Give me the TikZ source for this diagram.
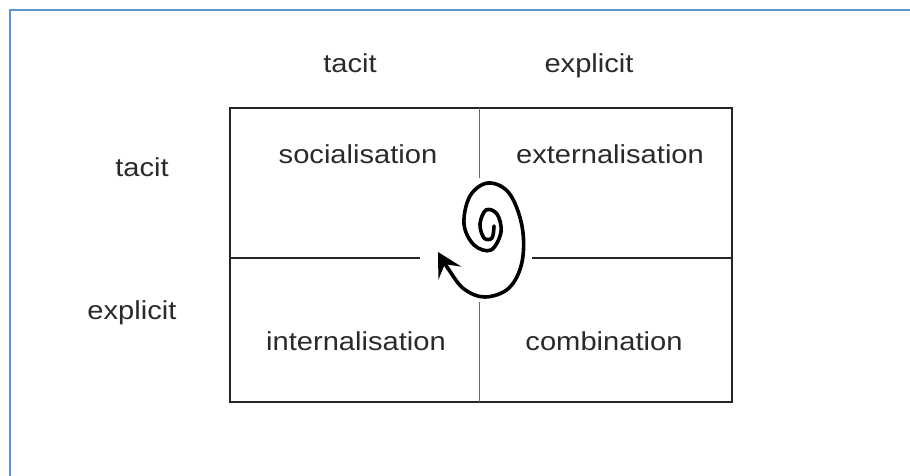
\documentclass[tikz,border=0pt]{standalone}
\usepackage{fontspec}
\setmainfont{Liberation Sans}
\usetikzlibrary{arrows.meta}
\definecolor{framebl}{HTML}{5B93D3}
\definecolor{txt}{HTML}{2A2A2A}
\tikzset{
  lbl/.style={inner sep=0pt, anchor=base, text=txt, font=\fontsize{26}{30}\selectfont},
  outer/.style={line width=1.6pt, draw=black!85},
  inner/.style={line width=1pt, draw=black!60},
  spiral/.style={line width=3.6pt, line cap=round, line join=round, -{Stealth[length=24pt,width=26pt,inset=10pt]}}
}
\newcommand{\wide}[1]{\scalebox{1.12}[1]{#1}}
\begin{document}
\begin{tikzpicture}[x=1pt,y=-1pt]
\useasboundingbox (0,0) rectangle (910,476);
% frame
\draw[framebl, line width=2pt] (10,476) -- (10,10) -- (910,10);
% grid coordinates
\coordinate (nw) at (230,108);
\coordinate (se) at (732,402);
\coordinate (tm) at (479,108);
\coordinate (tmend) at (479,178);
\coordinate (bm) at (479,402);
\coordinate (bmend) at (479,302);
\coordinate (lm) at (230,258);
\coordinate (lmend) at (420,258);
\coordinate (rm) at (732,258);
\coordinate (rmend) at (532,258);
\draw[outer] (nw) rectangle (se);
\draw[inner] (tm) -- (tmend);
\draw[inner] (bm) -- (bmend);
\draw[outer, line width=1.3pt] (lm) -- (lmend);
\draw[outer, line width=1.3pt] (rm) -- (rmend);
% labels
\node[lbl] (ctacit) at (350,73) {\wide{tacit}};
\node[lbl] (cexpl) at (589,73) {\wide{explicit}};
\node[lbl] (rtacit) at (142,176) {\wide{tacit}};
\node[lbl] (rexpl) at (132,319) {\wide{explicit}};
\node[lbl] (soc) at (358,163) {\wide{socialisation}};
\node[lbl] (ext) at (610,163) {\wide{externalisation}};
\node[lbl] (int) at (356,350) {\wide{internalisation}};
\node[lbl] (com) at (604,350) {\wide{combination}};
% spiral
\draw[spiral] plot[smooth, tension=0.6] coordinates {
 (494,226) (492,238) (484,238) (480,224) (486,210) (497,214) (501,232)
 (491,250) (474,245) (464,224) (470,196) (488,183) (509,193) (522,226)
 (522,262) (509,288) (485,297) (464,289) (449,270) (438,252)};
\end{tikzpicture}
\end{document}
